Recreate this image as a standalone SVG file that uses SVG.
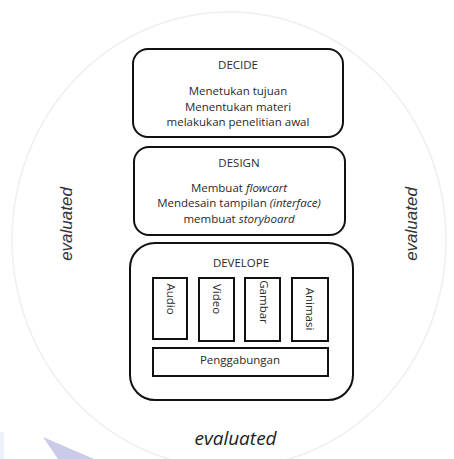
<svg xmlns="http://www.w3.org/2000/svg" width="454" height="459" viewBox="0 0 454 459">
<style>
.box{fill:#fff;stroke:#111;stroke-width:2}
.sub{fill:#fff;stroke:#111;stroke-width:2}
.t{font-family:"Open Sans","Noto Sans",sans-serif;font-size:11.5px;fill:#2a2a2a;text-anchor:middle}
.ti{font-style:italic}
.ev{font-family:"Liberation Sans",Arial,sans-serif;font-style:italic;font-size:17px;fill:#333;text-anchor:middle;dominant-baseline:central}
.evb{font-family:"Open Sans","Noto Sans",sans-serif;font-style:italic;font-size:19px;fill:#222;text-anchor:middle}
.v{dominant-baseline:central}
</style>
<rect width="454" height="459" fill="#fff"/>
<g id="background">
<ellipse cx="229" cy="240" rx="217" ry="228" fill="#fff" stroke="#efefef" stroke-width="1.5"/>
<polygon points="43,437 58,459 94,459" fill="#c9cbe9"/>
<rect x="0" y="432" width="4" height="27" fill="#eef0fa"/>
</g>
<g id="decide">
<rect class="box" x="133" y="49" width="210" height="88" rx="15"/>
<text class="t" x="238" y="69">DECIDE</text>
<text class="t" x="238" y="95">Menetukan tujuan</text>
<text class="t" x="238" y="111">Menentukan materi</text>
<text class="t" x="238" y="126">melakukan penelitian awal</text>
</g>
<g id="design">
<rect class="box" x="134" y="147" width="211" height="88" rx="15"/>
<text class="t" x="239" y="167">DESIGN</text>
<text class="t" x="239" y="192">Membuat <tspan class="ti">flowcart</tspan></text>
<text class="t" x="239" y="207">Mendesain tampilan <tspan class="ti">(interface)</tspan></text>
<text class="t" x="239" y="223">membuat <tspan class="ti">storyboard</tspan></text>
</g>
<g id="develope">
<rect class="box" x="130" y="243" width="223" height="157" rx="25"/>
<text class="t" x="241" y="267">DEVELOPE</text>
</g>
<g id="audio">
<rect class="sub" x="153" y="278" width="34" height="61"/>
<text class="t v" transform="translate(171,299) rotate(90)">Audio</text>
</g>
<g id="video">
<rect class="sub" x="199" y="278" width="35" height="63"/>
<text class="t v" transform="translate(217,299) rotate(90)">Video</text>
</g>
<g id="gambar">
<rect class="sub" x="245" y="278" width="35" height="63"/>
<text class="t v" transform="translate(264,302) rotate(90)">Gambar</text>
</g>
<g id="animasi">
<rect class="sub" x="292" y="278" width="36" height="63"/>
<text class="t v" transform="translate(310,309) rotate(90)">Animasi</text>
</g>
<g id="penggabungan">
<rect class="sub" x="153" y="348" width="175" height="28"/>
<text class="t" x="240" y="364">Penggabungan</text>
</g>
<g id="connectors"></g>
<g id="labels">
<text class="ev" transform="translate(66,224) rotate(-90)">evaluated</text>
<text class="ev" transform="translate(411,224) rotate(-90)">evaluated</text>
<text class="evb" x="235.5" y="445">evaluated</text>
</g>
</svg>
